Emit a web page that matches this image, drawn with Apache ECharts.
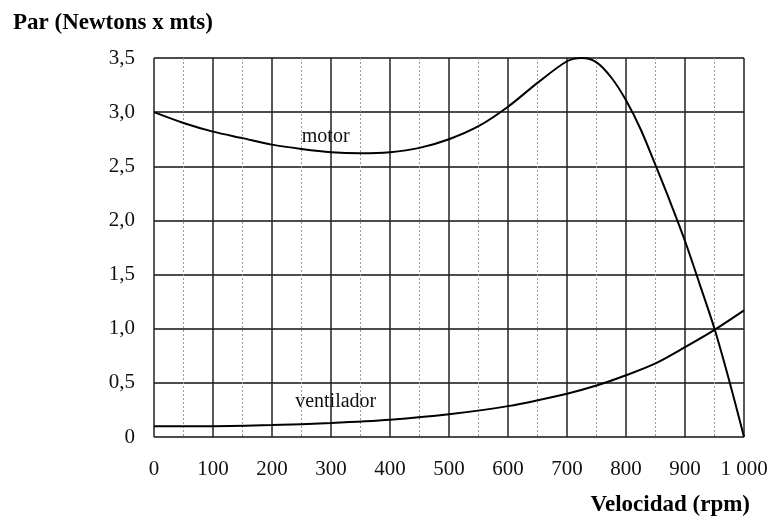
<!DOCTYPE html>
<html><head><meta charset="utf-8">
<script src="https://cdn.jsdelivr.net/npm/echarts@6/dist/echarts.min.js"></script>
<style>html,body{margin:0;padding:0;background:#fff}#c{width:773px;height:518px}</style>
</head><body><div id="c"></div>
<script>
var rpm = [0,50,100,150,200,250,300,350,400,450,500,550,600,650,700,725,750,775,800,825,850,875,900,925,950,975,1000];
var motor = [3.0,2.9,2.82,2.76,2.70,2.66,2.63,2.62,2.63,2.67,2.75,2.87,3.05,3.27,3.47,3.5,3.46,3.32,3.11,2.84,2.51,2.17,1.81,1.41,1.0,0.52,0];
var ventRpm = [0,100,200,300,400,500,600,700,750,800,850,900,950,1000];
var ventilador = [0.1,0.1,0.11,0.13,0.16,0.21,0.285,0.40,0.475,0.57,0.68,0.83,0.99,1.17];
var yTitle = 'Par (Newtons x mts)';
var xTitle = 'Velocidad (rpm)';
var labels = [{name:'motor', x:291, y:2.77},{name:'ventilador', x:308, y:0.33}];

var font = 'Liberation Serif, Times New Roman, serif';
var chart = echarts.init(document.getElementById('c'));
function lbl(i){
  return {symbol:'circle',symbolSize:0,silent:true,
    label:{show:true,position:'inside',fontFamily:font,fontSize:20,color:'#111',formatter:'{b}'},
    data:[{name:labels[i].name,coord:[labels[i].x,labels[i].y]}]};
}
chart.setOption({
  animation:false,
  backgroundColor:'#fff',
  grid:{left:154,right:29,top:58,bottom:81,show:false},
  title:[
    {text:yTitle,left:8,top:7,textStyle:{fontFamily:font,fontWeight:'bold',fontSize:23,color:'#000'}},
    {text:xTitle,right:18,top:489,textStyle:{fontFamily:font,fontWeight:'bold',fontSize:23,color:'#000'}}
  ],
  xAxis:{type:'value',min:0,max:1000,interval:100,
    axisLine:{show:false},axisTick:{show:false},
    axisLabel:{fontFamily:font,fontSize:21,color:'#111',margin:22,
      formatter:function(v){return v===1000?'1 000':String(v);}},
    splitLine:{show:true,lineStyle:{color:'#222',width:1.5}},
    minorTick:{show:false,splitNumber:2},
    minorSplitLine:{show:true,lineStyle:{color:'#999',width:1,type:[2,2]}}
  },
  yAxis:{type:'value',min:0,max:3.5,interval:0.5,
    axisLine:{show:false},axisTick:{show:false},
    axisLabel:{fontFamily:font,fontSize:21,color:'#111',margin:19,verticalAlign:'middle',padding:[0,0,14,0],
      formatter:function(v){return v===0?'0':v.toFixed(1).replace('.',',');}},
    splitLine:{show:true,lineStyle:{color:'#111',width:1.5}}
  },
  series:[
    {type:'line',name:'motor',data:rpm.map(function(x,i){return [x,motor[i]];}),
      smooth:0.3,showSymbol:false,lineStyle:{color:'#000',width:2},markPoint:lbl(0)},
    {type:'line',name:'ventilador',data:ventRpm.map(function(x,i){return [x,ventilador[i]];}),
      smooth:0.3,showSymbol:false,lineStyle:{color:'#000',width:2},markPoint:lbl(1)}
  ]
});
</script></body></html>
